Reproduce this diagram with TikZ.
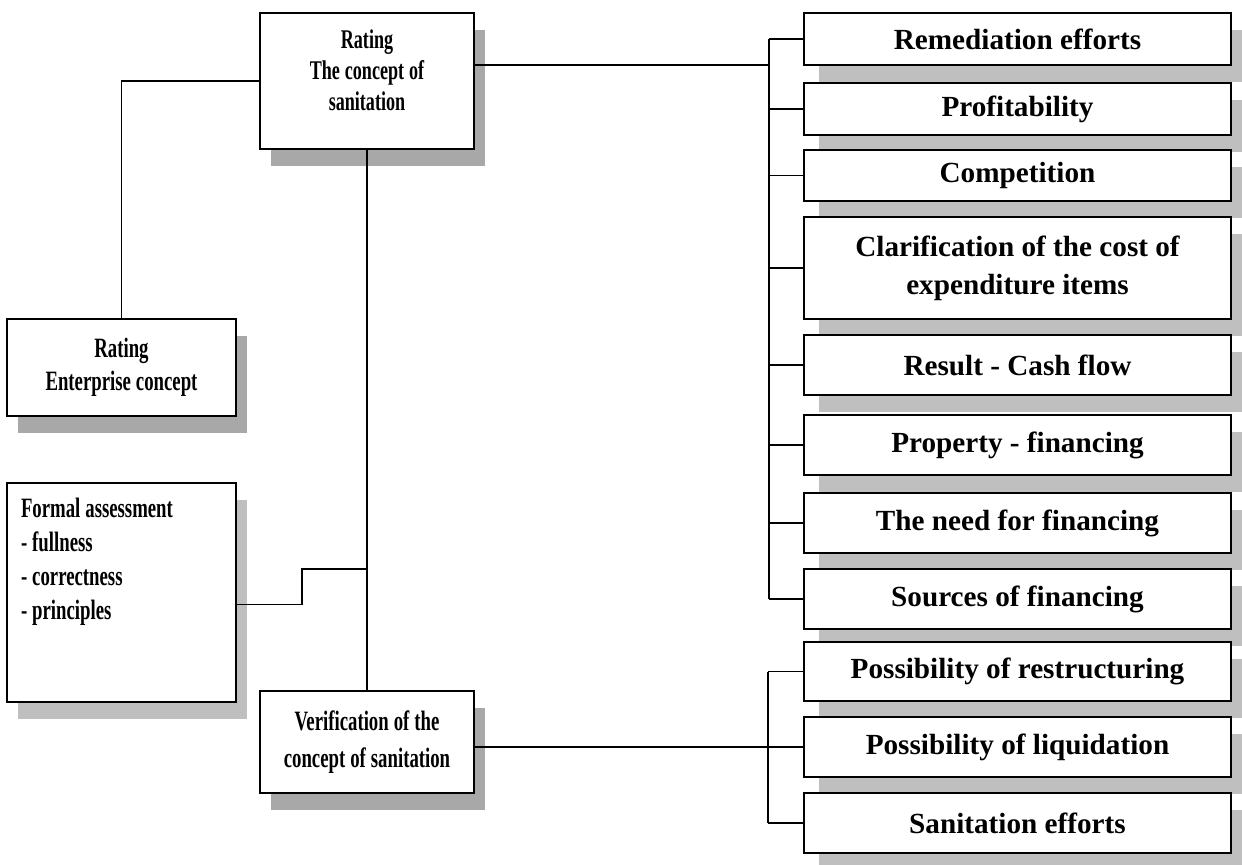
\documentclass[tikz,border=0pt]{standalone}
\usepackage{fontspec}
\setmainfont{Liberation Serif}
\newfontfamily\narrowfont[FakeStretch=0.67]{Liberation Serif}
\newcommand\tightsp{\spaceskip=2.5pt plus 0.5pt\relax}
\usetikzlibrary{shadows}
\definecolor{shadedark}{gray}{0.66}
\definecolor{shadelight}{gray}{0.75}
\begin{document}
\begin{tikzpicture}[x=0.5pt,y=-0.5pt,
  lbox/.style={draw,line width=1pt,fill=white,inner sep=0pt,align=center,
    minimum width=107pt,font=\narrowfont\bfseries\fontsize{14}{16.5}\selectfont\tightsp,
    drop shadow={shadow xshift=5.25pt,shadow yshift=-8.25pt,fill=#1,opacity=1}},
  lbox/.default=shadedark,
  rbox/.style={draw,line width=1pt,fill=white,inner sep=0pt,align=center,
    minimum width=213.5pt,font=\bfseries\fontsize{14.6}{19}\selectfont,
    drop shadow={shadow xshift=7.5pt,shadow yshift=-8.25pt,fill=shadelight,opacity=1}},
  link/.style={line width=0.8pt}]
  \useasboundingbox (0,0) rectangle (1242,864);
  \clip (0,0) rectangle (1242,864);

  \node[lbox,minimum height=68pt,font=\narrowfont\bfseries\fontsize{13.5}{15.5}\selectfont\tightsp] (conc) at (367,81)
    {Rating\\The concept of\\sanitation\\[-4.5pt]\mbox{}};
  \node[lbox,minimum width=114.5pt,minimum height=48.5pt] (ent) at (121.5,367.5) {Rating\\Enterprise concept};
  \node[lbox=shadelight,minimum width=114.5pt,minimum height=109.5pt,text width=100.5pt,align=left,
    font=\narrowfont\bfseries\fontsize{14}{17}\selectfont] (formal) at (121.5,592.5)
    {\tightsp Formal assessment\\- fullness\\- correctness\\- principles\\[16.5pt]\mbox{}};
  \node[lbox,minimum height=51pt,font=\narrowfont\bfseries\fontsize{14}{18.5}\selectfont\tightsp] (verif) at (367,742)
    {Verification of the\\concept of sanitation};

  \foreach \name/\y/\h/\txt in {rem/39/52/Remediation efforts, prof/109/52/Profitability,
      comp/175.5/51/Competition, clar/268/102/{Clarification of the cost of\\expenditure items},
      res/365/60/Result - Cash flow, prop/445/60/Property - financing,
      need/523/60/The need for financing, src/599/60/Sources of financing,
      restr/671.5/59/Possibility of restructuring, liq/747/60/Possibility of liquidation,
      san/823/60/Sanitation efforts}
    \node[rbox,minimum height=\h*0.5pt] (\name) at (1017.5,\y) {\txt};

  \coordinate (busR) at (769,0);
  \coordinate (busL) at (768,0);
  \coordinate (stepA) at (302,569);
  \draw[link] (conc.west) -| (ent.north);
  \draw[link] (conc.south) -- (verif.north);
  \draw[link] ([yshift=-6pt]formal.east) -| (stepA) -- (stepA -| conc.south);
  \draw[link] ([yshift=8pt]conc.east) -- ([yshift=8pt]conc.east -| busR);
  \draw[link] (rem.west -| busR) -- (src.west -| busR);
  \foreach \name in {rem,prof,comp,clar,res,prop,need,src}
    \draw[link] (\name.west) -- (\name.west -| busR);
  \draw[link] (verif.east |- liq.west) -- (liq.west);
  \draw[link] (restr.west -| busL) -- (san.west -| busL);
  \foreach \name in {restr,san}
    \draw[link] (\name.west) -- (\name.west -| busL);
\end{tikzpicture}
\end{document}
